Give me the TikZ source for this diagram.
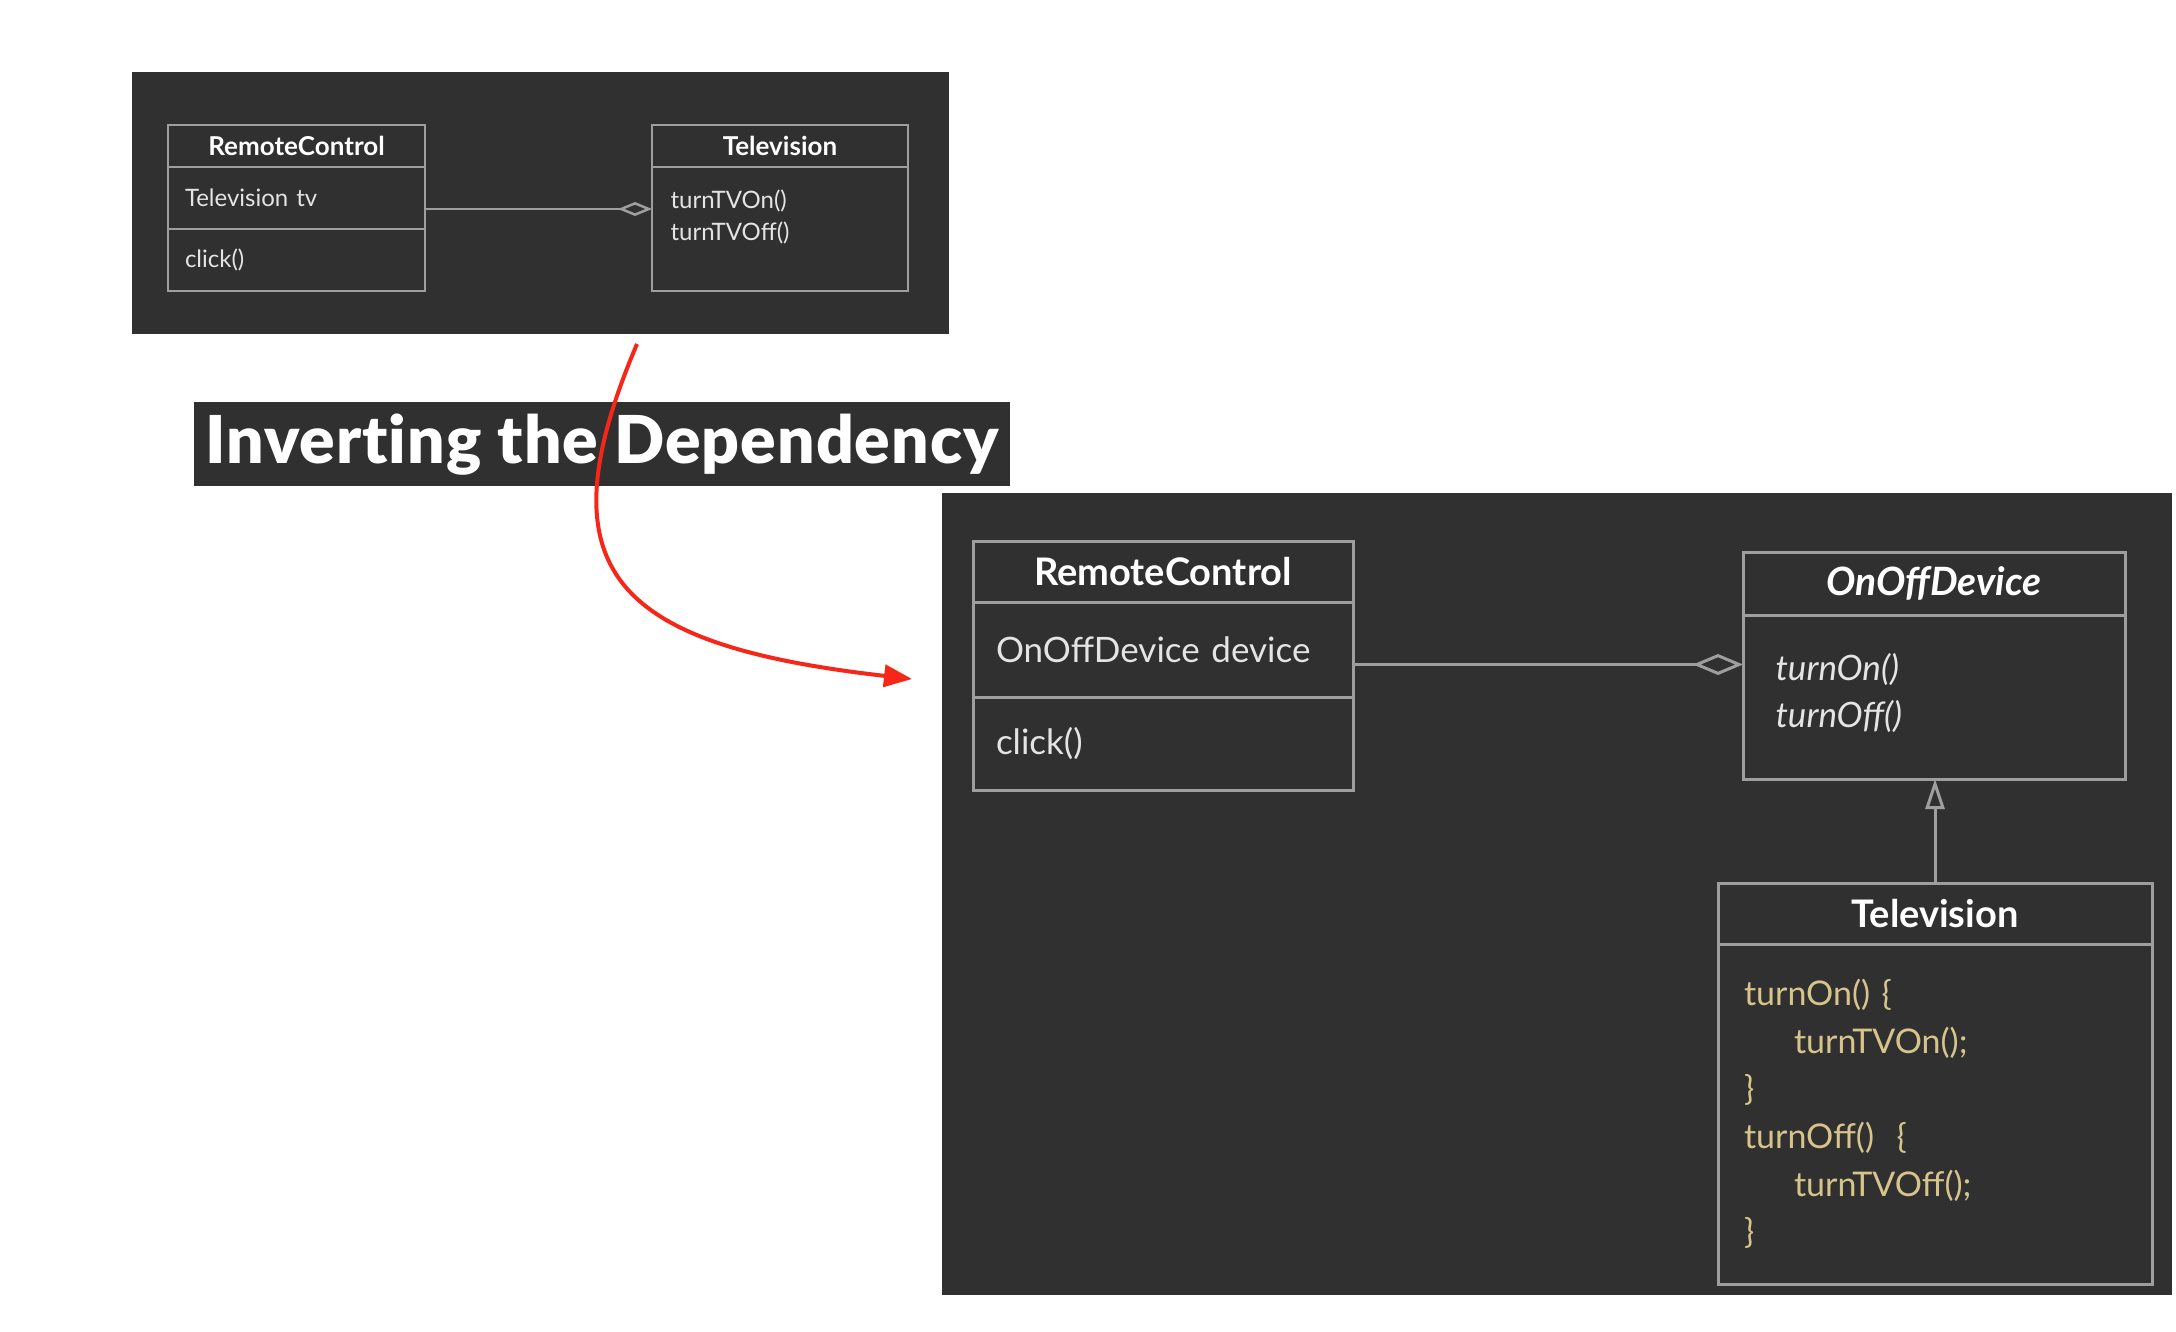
\documentclass[tikz,border=0pt]{standalone}
\usepackage{fontspec}
\setmainfont{Lato}
\newfontfamily\titlefont[LetterSpace=1.5, Ligatures=NoCommon]{Lato Black}
\usetikzlibrary{arrows.meta}
\definecolor{panelgray}{RGB}{48,48,48}
\definecolor{boxline}{RGB}{158,158,158}
\definecolor{bodytext}{RGB}{228,228,228}
\definecolor{codegold}{RGB}{214,196,138}
\definecolor{arrowred}{RGB}{246,38,24}

\tikzset{
  box/.style={draw=boxline, line width=3pt, anchor=north west, inner sep=0pt, outer sep=0pt, text=bodytext},
  smallhead/.style={box, line width=2.5pt, text=white, font=\fontsize{26pt}{30pt}\selectfont\bfseries},
  smallbody/.style={box, line width=2.5pt, font=\fontsize{24pt}{32pt}\selectfont},
  bighead/.style={box, text=white, font=\fontsize{38pt}{44pt}\selectfont\bfseries},
  bigbody/.style={box, font=\fontsize{35pt}{47pt}\selectfont},
  assoc/.style={draw=boxline, line width=2.5pt},
  inherit/.style={draw=boxline, line width=3pt, -{Triangle[open, length=30pt, width=19pt]}}
}

\begin{document}
\begin{tikzpicture}[x=1pt, y=-1pt]
  \useasboundingbox (0,0) rectangle (2176,1332);
  \fill[white] (0,0) rectangle (2176,1332);

  % before
  \fill[panelgray] (132,72) rectangle (949,334);
  \node[smallhead, minimum width=257, minimum height=42] (rcOldHead) at (168,125) {RemoteControl};
  \node[smallbody, minimum height=62, text width=223, inner xsep=17, align=left] (rcOldAttr) at (168,167) {Television tv};
  \node[smallbody, minimum height=62, text width=223, inner xsep=17, align=left] (rcOldMeth) at (168,229) {click()};
  \node[smallhead, minimum width=256, minimum height=42] (tvOldHead) at (652,125) {Television};
  \node[smallbody, minimum width=256, minimum height=124] (tvOldBody) at (652,167) {};
  \node[anchor=west, align=left, text=bodytext, font=\fontsize{24pt}{32pt}\selectfont] (tvOldOps) at (667,217) {turnTVOn()\\turnTVOff()};
  \draw[assoc, -{Diamond[open, length=34pt, width=14pt]}] ([yshift=-11pt]rcOldAttr.east) -- ([yshift=-11pt]rcOldAttr.east -| tvOldBody.west);

  % title
  \node[anchor=north west, fill=panelgray, text=white, inner sep=0pt, minimum width=816, minimum height=84,
        font=\fontsize{66pt}{70pt}\titlefont] (title) at (194,402) {Inverting the Dependency};

  % after
  \fill[panelgray] (942,493) rectangle (2172,1295);
  \node[bighead, minimum width=380, minimum height=61] (rcHead) at (973,541) {RemoteControl};
  \node[bigbody, minimum height=95, text width=334, inner xsep=23, align=left] (rcAttr) at (973,602) {OnOffDevice device};
  \node[bigbody, minimum height=93, text width=334, inner xsep=23, align=left] (rcMeth) at (973,697) {click()};
  \node[bighead, minimum width=382, minimum height=63, font=\fontsize{39pt}{44pt}\selectfont\bfseries\itshape] (devHead) at (1743,552) {OnOffDevice};
  \node[bigbody, minimum width=382, minimum height=164] (devBody) at (1743,615) {};
  \node[anchor=west, align=left, text=bodytext, font=\fontsize{35pt}{47pt}\selectfont\itshape] (devOps) at (1772,693) {turnOn()\\turnOff()};
  \node[bighead, minimum width=434, minimum height=61] (tvHead) at (1718,883) {Television};
  \node[bigbody, minimum height=340, text width=382, inner xsep=26, align=left, text=codegold,
        font=\fontsize{34pt}{47.6pt}\selectfont] (tvBody) at (1718,944)
    {turnOn() \{\\\hspace*{50pt}turnTVOn();\\\}\\turnOff()\ \ \{\\\hspace*{50pt}turnTVOff();\\\}};
  \draw[assoc, line width=3pt, -{Diamond[open, length=50pt, width=21pt]}] ([yshift=-15pt]rcAttr.east) -- ([yshift=-15pt]rcAttr.east -| devBody.west);
  \draw[inherit] (tvHead.north) -- (tvHead.north |- devBody.south);

  % red arrow
  \coordinate (flowStart) at (637,344);
  \coordinate (flowEnd) at (912,679);
  \draw[arrowred, line width=4pt, -{Triangle[length=28pt, width=22pt]}]
    (flowStart) .. controls (540,572) and (614,645) .. (flowEnd);
\end{tikzpicture}
\end{document}
